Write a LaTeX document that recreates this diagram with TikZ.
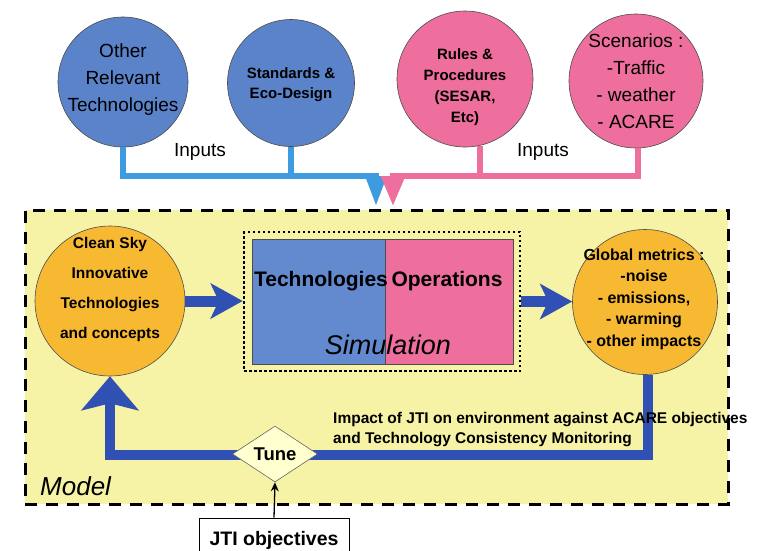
\documentclass[tikz,border=0pt]{standalone}
\usepackage{fontspec}
\setmainfont{Liberation Sans}
\usetikzlibrary{arrows.meta,shapes.geometric}
\definecolor{cblue}{HTML}{5B83C9}
\definecolor{cpink}{HTML}{EE6E9E}
\definecolor{corange}{HTML}{F8B932}
\definecolor{cyellow}{HTML}{F7F3A6}
\definecolor{ctop}{HTML}{3D9BE0}
\definecolor{cdark}{HTML}{3150B4}
\definecolor{simblue}{HTML}{6389CF}
\definecolor{dfill}{HTML}{FFFFD0}
\newcommand\myfs[2]{\fontsize{#1}{#2}\selectfont}
\begin{document}
\begin{tikzpicture}[x=1pt,y=-1pt,
  circ/.style={circle,draw=black!70,line width=0.6pt,inner sep=0pt},
  txt/.style={align=center,inner sep=0pt},
  topblue/.style={draw=ctop,line width=6pt,line join=miter},
  toppink/.style={draw=cpink,line width=6pt,line join=miter},
  fat/.style={draw=cdark,line width=11pt,-{Stealth[length=32pt,width=35pt,inset=8pt]}},
  fb/.style={draw=cdark,line width=10pt,line join=miter,-{Stealth[length=34pt,width=57pt,inset=7pt]}}]
\useasboundingbox[fill=white] (0,0) rectangle (760,550);

% model box
\node[draw=black,fill=cyellow,line width=3pt,dash pattern=on 12pt off 9pt,
  minimum width=703pt,minimum height=294pt,inner sep=0pt] (model) at (376.5,357) {};
\node[txt,font=\myfs{26}{30}\itshape,anchor=west] (modelt) at (40,486) {Model};

% top circles
\node[circ,fill=cblue,minimum size=130pt] (ort) at (123,82) {};
\node[circ,fill=cblue,minimum size=127pt] (sed) at (291,83) {};
\node[circ,fill=cpink,minimum size=136pt] (rp) at (465,79) {};
\node[circ,fill=cpink,minimum size=134pt] (sc) at (636,81) {};
\node[txt,font=\myfs{19}{27}] (ortt) at (123,80) {Other\\Relevant\\Technologies};
\node[txt,font=\myfs{15}{20}\bfseries] (sedt) at (291,85) {Standards \&\\Eco-Design};
\node[txt,font=\myfs{15}{21}\bfseries] (rpt) at (465,87) {Rules \&\\Procedures\\(SESAR,\\Etc)};
\node[txt,font=\myfs{19}{27}] (sct) at (636,81) {Scenarios :\\-Traffic\\- weather\\- ACARE};

% input connectors
\coordinate (bj) at (376,176);
\coordinate (bt) at (376,206);
\coordinate (pj) at (393,176);
\coordinate (pt) at (393,206);
\draw[topblue] (sed.south) -- (sed.south |- bj);
\draw[topblue,-{Triangle[length=30pt,width=20pt]}] (ort.south) |- (bj) -- (bt);
\draw[toppink] (rp.-77) -- (rp.-77 |- pj);
\draw[toppink,-{Triangle[length=30pt,width=23pt]}] (sc.-88) |- (pj) -- (pt);
\node[txt,font=\myfs{19}{22}] (in1) at (200,152) {Inputs};
\node[txt,font=\myfs{19}{22}] (in2) at (543,152) {Inputs};

% simulation block
\node[draw=black,line width=2.5pt,dash pattern=on 2.5pt off 2.5pt,
  minimum width=276pt,minimum height=139pt,inner sep=0pt] (simbox) at (382,301.5) {};
\node[draw=black!70,line width=0.6pt,fill=simblue,minimum width=133pt,minimum height=125pt,inner sep=0pt] (techbox) at (318.5,301.5) {};
\node[draw=black!70,line width=0.6pt,fill=cpink,minimum width=128pt,minimum height=125pt,inner sep=0pt] (opbox) at (449,301.5) {};
\node[txt,font=\myfs{21}{24}\bfseries] (techt) at (321,281) {Technologies};
\node[txt,font=\myfs{21}{24}\bfseries] (opt) at (447,281) {Operations};
\node[txt,font=\myfs{27}{30}\itshape] (simt) at (388,345) {Simulation};

% side circles
\node[circ,fill=corange,minimum size=150pt] (cs) at (110,301) {};
\node[circ,fill=corange,minimum size=145pt] (gm) at (645,302) {};
\node[txt,font=\myfs{15.5}{30}\bfseries] (cst) at (110,289) {Clean Sky\\Innovative\\Technologies\\and concepts};
\node[txt,font=\myfs{16}{21.5}\bfseries] (gmt) at (644,299) {Global metrics :\\-noise\\- emissions,\\- warming\\- other impacts};

% main arrows
\draw[fat] (cs.east) -- (cs.east -| simbox.west);
\draw[fat] (simbox.east) -- (simbox.east -| gm.west);

% feedback loop
\coordinate (fbr) at (648,455);
\coordinate (fbl) at (110,455);
\draw[fb] ([xshift=3pt]gm.south) -- (fbr) -- (fbl) -- (cs.south);

\node[txt,font=\myfs{15.5}{20}\bfseries,align=left,anchor=west] (impact) at (333,429.5)
  {Impact of JTI on environment against ACARE objectives\\and Technology Consistency Monitoring};

% tune and JTI objectives
\node[diamond,draw=black!60,line width=0.6pt,fill=dfill,aspect=1.5,inner sep=0pt,
  minimum width=85pt,minimum height=56pt,font=\myfs{18.5}{22}\bfseries] (tune) at (275,454) {Tune};
\node[draw=black,line width=0.8pt,fill=white,minimum width=150pt,minimum height=44pt,
  inner sep=0pt,font=\myfs{19.5}{22}\bfseries] (jti) at (274,540) {\raisebox{4pt}{JTI objectives}};
\draw[line width=1.3pt,-{Stealth[length=9pt,width=8pt]}] (jti.north) -- (tune.south);
\end{tikzpicture}
\end{document}
